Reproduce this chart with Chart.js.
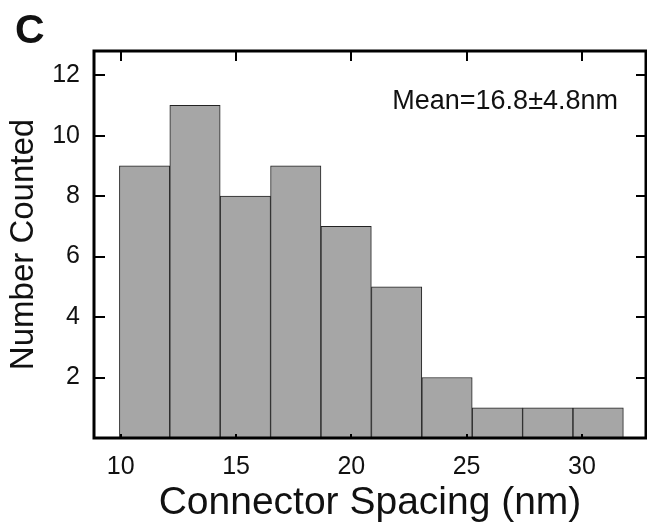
<!DOCTYPE html>
<html>
<head>
<meta charset="utf-8">
<script src="https://cdn.jsdelivr.net/npm/chart.js@4.4.1/dist/chart.umd.min.js"></script>
<style>
  html, body { margin: 0; padding: 0; background: #fff; }
  #wrap { width: 647px; height: 527px; }
</style>
</head>
<body>
<div id="wrap"><canvas id="myChart" width="647" height="527"></canvas></div>
<script>
// histogram bins (nm) and counts
const binEdges = [9.94, 12.13, 14.31, 16.50, 18.68, 20.87, 23.06, 25.24, 27.43, 29.61, 31.80];
const counts = [9, 11, 8, 9, 7, 5, 2, 1, 1, 1];
const xTicks = [10, 15, 20, 25, 30];
const yTicks = [2, 4, 6, 8, 10, 12];
const panelLabel = 'C';
const meanText = 'Mean=16.8\u00b14.8nm';

const FONT = '"Liberation Sans", Arial, Helvetica, sans-serif';

const points = counts.map((c, i) => ({ x: (binEdges[i] + binEdges[i + 1]) / 2, y: c }));

// frame with inward ticks on all four sides + the text annotations
const framePlugin = {
  id: 'frame',
  afterDatasetsDraw(chart) {
    const { ctx, chartArea: { left, right, top, bottom }, scales: { x, y } } = chart;
    ctx.save();
    ctx.strokeStyle = '#000';
    ctx.lineWidth = 2;
    ctx.beginPath();
    xTicks.forEach(v => {
      const px = Math.round(x.getPixelForValue(v));
      ctx.moveTo(px, bottom); ctx.lineTo(px, bottom - 4);
      ctx.moveTo(px, top); ctx.lineTo(px, top + 10);
    });
    yTicks.forEach(v => {
      const py = Math.round(y.getPixelForValue(v));
      ctx.moveTo(left, py); ctx.lineTo(left + 11, py);
      ctx.moveTo(right, py); ctx.lineTo(right - 10, py);
    });
    ctx.stroke();
    ctx.lineWidth = 3;
    ctx.strokeRect(left, top, right - left, bottom - top);

    ctx.fillStyle = '#111';
    ctx.textBaseline = 'alphabetic';
    ctx.textAlign = 'right';
    ctx.font = '27px ' + FONT;
    ctx.fillText(meanText, 618, 109);

    ctx.textAlign = 'left';
    ctx.font = 'bold 41px ' + FONT;
    ctx.fillText(panelLabel, 15, 43);
    ctx.restore();
  }
};

new Chart(document.getElementById('myChart'), {
  type: 'bar',
  data: {
    datasets: [{
      data: points,
      backgroundColor: '#a6a6a6',
      borderColor: '#222',
      borderWidth: 1,
      barPercentage: 1,
      categoryPercentage: 1
    }]
  },
  options: {
    responsive: false,
    animation: false,
    events: [],
    layout: { padding: { left: 0, right: 1, top: 51, bottom: 0 } },
    plugins: { legend: { display: false }, tooltip: { enabled: false } },
    scales: {
      x: {
        type: 'linear',
        offset: false,
        min: 8.84,
        max: 32.78,
        grid: { display: false, drawTicks: false },
        border: { display: false },
        afterBuildTicks: (scale) => { scale.ticks = xTicks.map(v => ({ value: v })); },
        afterFit: (scale) => { scale.height = 89; },
        ticks: { color: '#111', font: { family: FONT, size: 25 }, padding: 14, maxRotation: 0, autoSkip: false },
        title: {
          display: true, text: 'Connector Spacing (nm)', color: '#111',
          font: { family: FONT, size: 39 }, padding: { top: 0, bottom: 0 }
        }
      },
      y: {
        min: 0,
        max: 12.8,
        grid: { display: false, drawTicks: false },
        border: { display: false },
        afterBuildTicks: (scale) => { scale.ticks = yTicks.map(v => ({ value: v })); },
        afterFit: (scale) => { scale.width = 94; },
        ticks: { color: '#111', font: { family: FONT, size: 25 }, padding: 14 },
        title: {
          display: true, text: 'Number Counted', color: '#111',
          font: { family: FONT, size: 33 }, padding: { top: 4, bottom: 0 }
        }
      }
    }
  },
  plugins: [framePlugin]
});
</script>
</body>
</html>
